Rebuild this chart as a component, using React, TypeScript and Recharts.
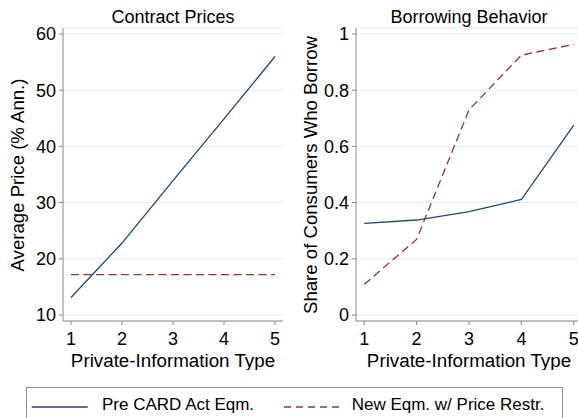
import React from 'react';
import { LineChart, Line, XAxis, YAxis, CartesianGrid } from 'recharts';

const types = [1, 2, 3, 4, 5];
const priceBefore = [13.1, 22.8, 33.9, 44.9, 56.0];
const priceAfter = [17.2, 17.2, 17.2, 17.2, 17.2];
const borrowBefore = [0.326, 0.338, 0.368, 0.411, 0.676];
const borrowAfter = [0.109, 0.269, 0.73, 0.925, 0.963];
const xTicks = [1, 2, 3, 4, 5];
const priceTicks = [10, 20, 30, 40, 50, 60];
const shareTicks = [0, 0.2, 0.4, 0.6, 0.8, 1];
const seriesNames = ['Pre CARD Act Eqm.', 'New Eqm. w/ Price Restr.'];
const panelTitles = ['Contract Prices', 'Borrowing Behavior'];
const yTitles = ['Average Price (% Ann.)', 'Share of Consumers Who Borrow'];
const xTitle = 'Private-Information Type';

const priceData = types.map((t, i) => ({ type: t, before: priceBefore[i], after: priceAfter[i] }));
const shareData = types.map((t, i) => ({ type: t, before: borrowBefore[i], after: borrowAfter[i] }));

const FONT = '"Liberation Sans", Arial, Helvetica, sans-serif';
const BLUE = '#1a476f';
const RED = '#90353b';
const AXIS = '#8a8a8a';
const GRID = '#e4ecf1';
const tickStyle = { fill: '#000', fontSize: 18, fontFamily: FONT };

function PanelText(props: any) {
  const { title, titleX, yTitle, yTitleX, xTitleX } = props;
  return (
    <g fontFamily={FONT} fill="#000">
      <text x={titleX} y={22.7} textAnchor="middle" fontSize={18} fill="#000">{title}</text>
      <text x={yTitleX} y={175} transform={`rotate(-90 ${yTitleX} 175)`} textAnchor="middle" fontSize={18.6} fill="#000">{yTitle}</text>
      <text x={xTitleX} y={366.5} textAnchor="middle" fontSize={18.8} fill="#000">{xTitle}</text>
    </g>
  );
}

export default function App() {
  return (
    <div style={{ position: 'absolute', left: 0, top: 0, width: 578, height: 418, overflow: 'hidden', background: '#fff' }}>
      <div style={{ position: 'absolute', left: 0, top: 0 }}>
        <LineChart width={290} height={370} data={priceData} margin={{ top: 28, right: 7, bottom: 0, left: 0 }}>
          <CartesianGrid horizontal vertical={false} stroke={GRID} />
          <XAxis dataKey="type" type="number" domain={[0.843, 5.157]} ticks={xTicks} allowDataOverflow interval={0}
            height={49} tickSize={4} tickMargin={7.5} stroke={AXIS} tick={tickStyle} />
          <YAxis type="number" domain={[8.93, 61.07]} ticks={priceTicks} allowDataOverflow interval={0}
            width={63} tickSize={4} tickMargin={3} stroke={AXIS} tick={tickStyle}
            label={<PanelText title={panelTitles[0]} titleX={173} yTitle={yTitles[0]} yTitleX={24} xTitleX={173} />} />
          <Line dataKey="before" type="linear" stroke={BLUE} strokeWidth={1.3} dot={false} isAnimationActive={false} />
          <Line dataKey="after" type="linear" stroke={RED} strokeWidth={1.3} strokeDasharray="8 4.5" dot={false} isAnimationActive={false} />
        </LineChart>
      </div>
      <div style={{ position: 'absolute', left: 290, top: 0 }}>
        <LineChart width={300} height={370} data={shareData} margin={{ top: 28, right: 8, bottom: 0, left: 0 }}>
          <CartesianGrid horizontal vertical={false} stroke={GRID} />
          <XAxis dataKey="type" type="number" domain={[0.843, 5.157]} ticks={xTicks} allowDataOverflow interval={0}
            height={49} tickSize={4} tickMargin={7.5} stroke={AXIS} tick={tickStyle} />
          <YAxis type="number" domain={[-0.0214, 1.0214]} ticks={shareTicks} allowDataOverflow interval={0}
            width={66} tickSize={4} tickMargin={3} stroke={AXIS} tick={tickStyle}
            label={<PanelText title={panelTitles[1]} titleX={179} yTitle={yTitles[1]} yTitleX={27} xTitleX={179} />} />
          <Line dataKey="before" type="linear" stroke={BLUE} strokeWidth={1.3} dot={false} isAnimationActive={false} />
          <Line dataKey="after" type="linear" stroke={RED} strokeWidth={1.3} strokeDasharray="8 4.5" dot={false} isAnimationActive={false} />
        </LineChart>
      </div>
      <svg width={578} height={418} style={{ position: 'absolute', left: 0, top: 0 }} fontFamily={FONT}>
        <rect x={26.5} y={387.5} width={536} height={40} fill="#fff" stroke="#8c8c8c" strokeWidth={1} />
        <line x1={31.7} x2={87.7} y1={407} y2={407} stroke={BLUE} strokeWidth={1.3} />
        <text x={102} y={410} fontSize={17} fill="#000">{seriesNames[0]}</text>
        <line x1={284} x2={340} y1={407} y2={407} stroke={RED} strokeWidth={1.3} strokeDasharray="7 5" />
        <text x={351.7} y={410} fontSize={17} fill="#000">{seriesNames[1]}</text>
      </svg>
    </div>
  );
}
